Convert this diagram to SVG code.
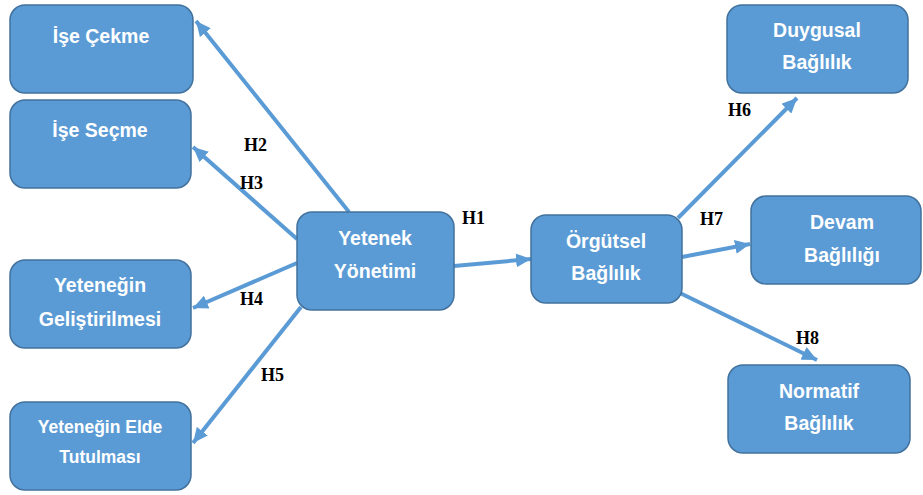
<svg xmlns="http://www.w3.org/2000/svg" width="923" height="495" viewBox="0 0 923 495">
<defs>
<marker id="ah" markerUnits="userSpaceOnUse" markerWidth="16" markerHeight="14" refX="15" refY="7" orient="auto">
<path d="M0,0 L15,7 L0,14 Z" fill="#5b9bd5"/>
</marker>
<style>
.box{fill:#5b9bd5;stroke:#41719c;stroke-width:1.5}
.t{font-family:"Liberation Sans",Arial,sans-serif;font-weight:bold;font-size:19.5px;fill:#fff;text-anchor:middle}
.ts{font-size:17.5px}
.c{stroke:#5b9bd5;stroke-width:4;fill:none;marker-end:url(#ah)}
.h{font-family:"Liberation Serif","Times New Roman",serif;font-weight:bold;font-size:18px;fill:#000}
</style>
</defs>
<rect width="923" height="495" fill="#fff"/>
<g id="connectors">
<line class="c" x1="349" y1="212" x2="196" y2="21"/>
<line class="c" x1="297" y1="239" x2="193" y2="147"/>
<line class="c" x1="297" y1="263" x2="193" y2="308"/>
<line class="c" x1="301" y1="307" x2="193" y2="443"/>
<line class="c" x1="454" y1="266" x2="531" y2="259"/>
<line class="c" x1="678" y1="218" x2="797" y2="98"/>
<line class="c" x1="682" y1="257" x2="750" y2="244"/>
<line class="c" x1="680" y1="293" x2="817" y2="360"/>
</g>
<g id="labels">
<text class="h" x="244" y="151">H2</text>
<text class="h" x="240" y="189">H3</text>
<text class="h" x="240" y="305">H4</text>
<text class="h" x="261" y="381">H5</text>
<text class="h" x="462" y="224">H1</text>
<text class="h" x="728" y="116">H6</text>
<text class="h" x="700" y="225">H7</text>
<text class="h" x="796" y="344">H8</text>
</g>
<g id="n-ise-cekme">
<rect class="box" x="10" y="5" width="183" height="88" rx="15"/>
<text class="t" x="101" y="43">İşe Çekme</text>
</g>
<g id="n-ise-secme">
<rect class="box" x="10" y="100" width="181" height="88" rx="15"/>
<text class="t" x="100" y="137">İşe Seçme</text>
</g>
<g id="n-gelistirme">
<rect class="box" x="10" y="260" width="181" height="88" rx="15"/>
<text class="t" x="100" y="292">Yeteneğin</text>
<text class="t" x="100" y="326">Geliştirilmesi</text>
</g>
<g id="n-elde-tutma">
<rect class="box" x="10" y="402" width="181" height="88" rx="15"/>
<text class="t ts" x="100" y="433">Yeteneğin Elde</text>
<text class="t ts" x="100" y="463">Tutulması</text>
</g>
<g id="n-yetenek-yonetimi">
<rect class="box" x="297" y="212" width="157" height="98" rx="15"/>
<text class="t" x="375" y="245">Yetenek</text>
<text class="t" x="375" y="278">Yönetimi</text>
</g>
<g id="n-orgutsel">
<rect class="box" x="531" y="215" width="151" height="88" rx="15"/>
<text class="t" x="606" y="248">Örgütsel</text>
<text class="t" x="606" y="280">Bağlılık</text>
</g>
<g id="n-duygusal">
<rect class="box" x="727" y="5" width="181" height="88" rx="15"/>
<text class="t" x="817" y="37">Duygusal</text>
<text class="t" x="817" y="69">Bağlılık</text>
</g>
<g id="n-devam">
<rect class="box" x="751" y="196" width="170" height="88" rx="15"/>
<text class="t" x="842" y="229">Devam</text>
<text class="t" x="842" y="262">Bağlılığı</text>
</g>
<g id="n-normatif">
<rect class="box" x="728" y="365" width="182" height="88" rx="15"/>
<text class="t" x="819" y="398">Normatif</text>
<text class="t" x="819" y="430">Bağlılık</text>
</g>
</svg>
